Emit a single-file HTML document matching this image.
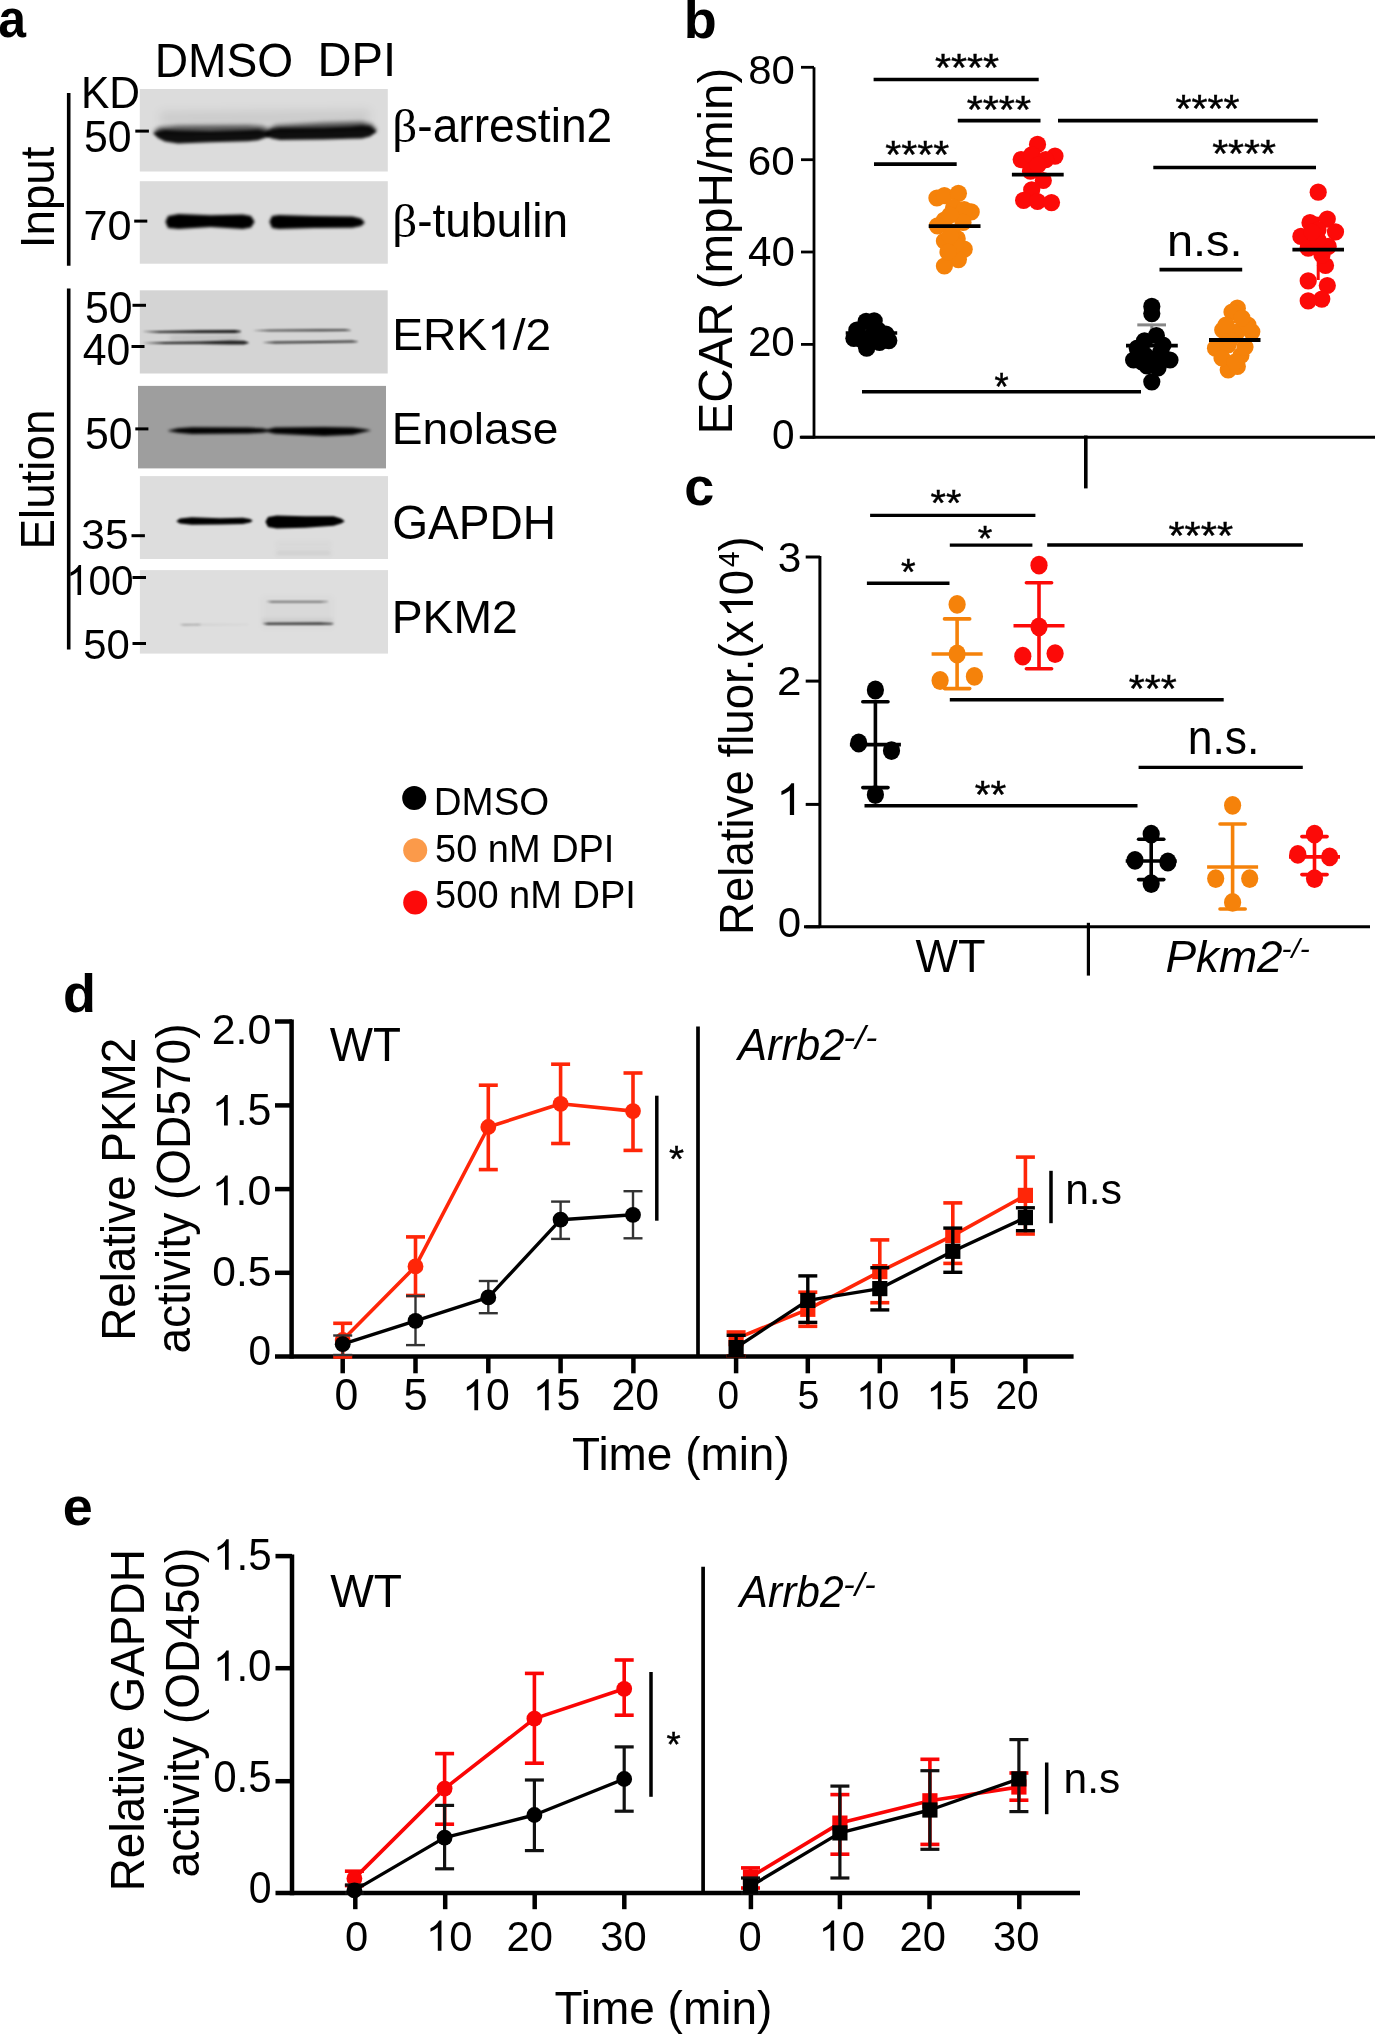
<!DOCTYPE html>
<html><head><meta charset="utf-8"><style>
html,body{margin:0;padding:0;background:#fff;}
svg{display:block;will-change:transform;font-family:"Liberation Sans",sans-serif;}
text{-webkit-font-smoothing:antialiased;}
</style></head><body>
<svg width="1375" height="2034" viewBox="0 0 1375 2034">
<defs>
<filter id="b4" x="-20%" y="-300%" width="140%" height="700%"><feGaussianBlur stdDeviation="4"/></filter>
<filter id="b2_2" x="-20%" y="-300%" width="140%" height="700%"><feGaussianBlur stdDeviation="2.2"/></filter>
<filter id="b1_7" x="-20%" y="-300%" width="140%" height="700%"><feGaussianBlur stdDeviation="1.7"/></filter>
<filter id="b1_5" x="-20%" y="-300%" width="140%" height="700%"><feGaussianBlur stdDeviation="1.5"/></filter>
<filter id="b0_9" x="-20%" y="-300%" width="140%" height="700%"><feGaussianBlur stdDeviation="0.9"/></filter>
<filter id="b2_5" x="-20%" y="-300%" width="140%" height="700%"><feGaussianBlur stdDeviation="2.5"/></filter>
<filter id="b1_4" x="-20%" y="-300%" width="140%" height="700%"><feGaussianBlur stdDeviation="1.4"/></filter>
<filter id="b1_2" x="-20%" y="-300%" width="140%" height="700%"><feGaussianBlur stdDeviation="1.2"/></filter>
<filter id="b2_0" x="-20%" y="-300%" width="140%" height="700%"><feGaussianBlur stdDeviation="2.0"/></filter>
<filter id="b3" x="-20%" y="-300%" width="140%" height="700%"><feGaussianBlur stdDeviation="3"/></filter>
<filter id="b0_8" x="-20%" y="-300%" width="140%" height="700%"><feGaussianBlur stdDeviation="0.8"/></filter>
</defs>
<rect width="1375" height="2034" fill="#fff"/>
<text transform="translate(683.64,38.27)" font-size="54.00" font-weight="bold" fill="#000">b</text>
<line x1="814.00" y1="67.30" x2="814.00" y2="438.60" stroke="#000" stroke-width="2.8" stroke-linecap="butt"/>
<line x1="799.80" y1="437.30" x2="1375.00" y2="437.30" stroke="#000" stroke-width="3.1" stroke-linecap="butt"/>
<line x1="801.00" y1="67.30" x2="814.00" y2="67.30" stroke="#000" stroke-width="2.8" stroke-linecap="butt"/>
<line x1="801.00" y1="159.70" x2="814.00" y2="159.70" stroke="#000" stroke-width="2.8" stroke-linecap="butt"/>
<line x1="801.00" y1="252.00" x2="814.00" y2="252.00" stroke="#000" stroke-width="2.8" stroke-linecap="butt"/>
<line x1="801.00" y1="344.40" x2="814.00" y2="344.40" stroke="#000" stroke-width="2.8" stroke-linecap="butt"/>
<line x1="801.00" y1="437.20" x2="814.00" y2="437.20" stroke="#000" stroke-width="2.8" stroke-linecap="butt"/>
<text transform="translate(748.18,84.00) scale(1,0.973)" font-size="41.95" fill="#000">80</text>
<text transform="translate(747.85,175.41) scale(1,0.953)" font-size="42.25" fill="#000">60</text>
<text transform="translate(748.03,265.88) scale(1,1.024)" font-size="42.08" fill="#000">40</text>
<text transform="translate(747.88,356.29) scale(1,0.987)" font-size="42.23" fill="#000">20</text>
<text transform="translate(772.01,448.79) scale(1,1.027)" font-size="40.58" fill="#000">0</text>
<line x1="1085.80" y1="435.50" x2="1085.80" y2="488.40" stroke="#000" stroke-width="3.6" stroke-linecap="butt"/>
<text transform="translate(732.30,434.40) rotate(-90) scale(1,1.025)" font-size="47.49" fill="#000">ECAR (mpH/min)</text>
<circle cx="874.20" cy="320.80" r="8.6" fill="#000"/>
<circle cx="866.10" cy="321.40" r="8.6" fill="#000"/>
<circle cx="856.80" cy="330.10" r="8.6" fill="#000"/>
<circle cx="853.90" cy="338.30" r="8.6" fill="#000"/>
<circle cx="866.70" cy="348.20" r="8.6" fill="#000"/>
<circle cx="879.50" cy="342.40" r="8.6" fill="#000"/>
<circle cx="885.90" cy="334.20" r="8.6" fill="#000"/>
<circle cx="888.80" cy="340.60" r="8.6" fill="#000"/>
<circle cx="870.70" cy="336.50" r="8.6" fill="#000"/>
<circle cx="862.00" cy="340.00" r="8.6" fill="#000"/>
<circle cx="878.00" cy="330.00" r="8.6" fill="#000"/>
<line x1="845.70" y1="333.00" x2="897.20" y2="333.00" stroke="#000" stroke-width="3.5" stroke-linecap="butt"/>
<circle cx="936.90" cy="198.00" r="8.6" fill="#F5820A"/>
<circle cx="944.40" cy="195.60" r="8.6" fill="#F5820A"/>
<circle cx="958.40" cy="193.30" r="8.6" fill="#F5820A"/>
<circle cx="953.70" cy="207.30" r="8.6" fill="#F5820A"/>
<circle cx="971.20" cy="211.90" r="8.6" fill="#F5820A"/>
<circle cx="964.20" cy="209.60" r="8.6" fill="#F5820A"/>
<circle cx="944.40" cy="220.00" r="8.6" fill="#F5820A"/>
<circle cx="937.50" cy="225.90" r="8.6" fill="#F5820A"/>
<circle cx="963.00" cy="222.40" r="8.6" fill="#F5820A"/>
<circle cx="950.00" cy="215.00" r="8.6" fill="#F5820A"/>
<circle cx="944.40" cy="241.00" r="8.6" fill="#F5820A"/>
<circle cx="957.20" cy="238.70" r="8.6" fill="#F5820A"/>
<circle cx="964.20" cy="249.20" r="8.6" fill="#F5820A"/>
<circle cx="958.40" cy="259.60" r="8.6" fill="#F5820A"/>
<circle cx="944.40" cy="266.00" r="8.6" fill="#F5820A"/>
<circle cx="952.00" cy="232.00" r="8.6" fill="#F5820A"/>
<circle cx="955.00" cy="245.00" r="8.6" fill="#F5820A"/>
<circle cx="950.00" cy="236.00" r="8.6" fill="#F5820A"/>
<circle cx="948.00" cy="252.00" r="8.6" fill="#F5820A"/>
<line x1="928.70" y1="226.10" x2="980.50" y2="226.10" stroke="#000" stroke-width="3.8" stroke-linecap="butt"/>
<circle cx="1037.50" cy="144.40" r="8.6" fill="#FC0A08"/>
<circle cx="1021.20" cy="159.60" r="8.6" fill="#FC0A08"/>
<circle cx="1031.70" cy="154.90" r="8.6" fill="#FC0A08"/>
<circle cx="1055.00" cy="156.10" r="8.6" fill="#FC0A08"/>
<circle cx="1045.70" cy="159.60" r="8.6" fill="#FC0A08"/>
<circle cx="1043.30" cy="180.50" r="8.6" fill="#FC0A08"/>
<circle cx="1031.70" cy="189.80" r="8.6" fill="#FC0A08"/>
<circle cx="1023.60" cy="200.30" r="8.6" fill="#FC0A08"/>
<circle cx="1037.50" cy="201.50" r="8.6" fill="#FC0A08"/>
<circle cx="1051.50" cy="202.60" r="8.6" fill="#FC0A08"/>
<circle cx="1030.50" cy="171.20" r="8.6" fill="#FC0A08"/>
<circle cx="1038.00" cy="165.00" r="8.6" fill="#FC0A08"/>
<line x1="1011.90" y1="174.70" x2="1063.70" y2="174.70" stroke="#000" stroke-width="3.8" stroke-linecap="butt"/>
<line x1="1151.80" y1="324.90" x2="1151.80" y2="345.00" stroke="#888" stroke-width="3" stroke-linecap="butt"/>
<line x1="1137.30" y1="324.90" x2="1166.00" y2="324.90" stroke="#888" stroke-width="3" stroke-linecap="butt"/>
<circle cx="1151.80" cy="306.40" r="8.6" fill="#000"/>
<circle cx="1151.80" cy="313.60" r="8.6" fill="#000"/>
<circle cx="1156.40" cy="335.50" r="8.6" fill="#000"/>
<circle cx="1144.50" cy="340.90" r="8.6" fill="#000"/>
<circle cx="1137.30" cy="348.20" r="8.6" fill="#000"/>
<circle cx="1133.60" cy="360.00" r="8.6" fill="#000"/>
<circle cx="1151.80" cy="359.10" r="8.6" fill="#000"/>
<circle cx="1170.00" cy="360.00" r="8.6" fill="#000"/>
<circle cx="1160.90" cy="351.80" r="8.6" fill="#000"/>
<circle cx="1151.80" cy="381.80" r="8.6" fill="#000"/>
<circle cx="1145.00" cy="355.00" r="8.6" fill="#000"/>
<circle cx="1140.00" cy="352.00" r="8.6" fill="#000"/>
<circle cx="1163.00" cy="345.00" r="8.6" fill="#000"/>
<circle cx="1147.00" cy="366.00" r="8.6" fill="#000"/>
<circle cx="1158.00" cy="368.00" r="8.6" fill="#000"/>
<circle cx="1142.00" cy="362.00" r="8.6" fill="#000"/>
<circle cx="1162.00" cy="358.00" r="8.6" fill="#000"/>
<line x1="1126.00" y1="345.60" x2="1177.80" y2="345.60" stroke="#000" stroke-width="3.8" stroke-linecap="butt"/>
<line x1="1220.00" y1="321.80" x2="1249.00" y2="321.80" stroke="#F5820A" stroke-width="3" stroke-linecap="butt"/>
<circle cx="1237.30" cy="308.20" r="8.6" fill="#F5820A"/>
<circle cx="1232.00" cy="312.00" r="8.6" fill="#F5820A"/>
<circle cx="1222.70" cy="330.00" r="8.6" fill="#F5820A"/>
<circle cx="1251.80" cy="331.80" r="8.6" fill="#F5820A"/>
<circle cx="1237.00" cy="332.00" r="8.6" fill="#F5820A"/>
<circle cx="1215.50" cy="348.20" r="8.6" fill="#F5820A"/>
<circle cx="1240.90" cy="355.50" r="8.6" fill="#F5820A"/>
<circle cx="1228.20" cy="370.00" r="8.6" fill="#F5820A"/>
<circle cx="1237.30" cy="366.40" r="8.6" fill="#F5820A"/>
<circle cx="1228.00" cy="345.00" r="8.6" fill="#F5820A"/>
<circle cx="1230.00" cy="340.00" r="8.6" fill="#F5820A"/>
<circle cx="1245.00" cy="347.00" r="8.6" fill="#F5820A"/>
<circle cx="1222.00" cy="358.00" r="8.6" fill="#F5820A"/>
<circle cx="1235.00" cy="362.00" r="8.6" fill="#F5820A"/>
<circle cx="1248.00" cy="325.00" r="8.6" fill="#F5820A"/>
<circle cx="1226.00" cy="325.00" r="8.6" fill="#F5820A"/>
<circle cx="1242.00" cy="318.00" r="8.6" fill="#F5820A"/>
<line x1="1209.00" y1="340.00" x2="1260.50" y2="340.00" stroke="#000" stroke-width="3.8" stroke-linecap="butt"/>
<line x1="1318.20" y1="218.00" x2="1318.20" y2="280.00" stroke="#FC0A08" stroke-width="3" stroke-linecap="butt"/>
<line x1="1304.50" y1="218.20" x2="1323.60" y2="218.20" stroke="#FC0A08" stroke-width="3" stroke-linecap="butt"/>
<circle cx="1318.20" cy="192.20" r="8.6" fill="#FC0A08"/>
<circle cx="1327.30" cy="219.10" r="8.6" fill="#FC0A08"/>
<circle cx="1310.00" cy="222.70" r="8.6" fill="#FC0A08"/>
<circle cx="1335.50" cy="231.80" r="8.6" fill="#FC0A08"/>
<circle cx="1300.90" cy="236.40" r="8.6" fill="#FC0A08"/>
<circle cx="1318.00" cy="230.00" r="8.6" fill="#FC0A08"/>
<circle cx="1308.20" cy="248.20" r="8.6" fill="#FC0A08"/>
<circle cx="1328.20" cy="246.40" r="8.6" fill="#FC0A08"/>
<circle cx="1325.50" cy="265.50" r="8.6" fill="#FC0A08"/>
<circle cx="1308.20" cy="280.90" r="8.6" fill="#FC0A08"/>
<circle cx="1327.30" cy="285.50" r="8.6" fill="#FC0A08"/>
<circle cx="1321.80" cy="299.10" r="8.6" fill="#FC0A08"/>
<circle cx="1308.20" cy="300.90" r="8.6" fill="#FC0A08"/>
<circle cx="1318.00" cy="240.00" r="8.6" fill="#FC0A08"/>
<circle cx="1322.00" cy="255.00" r="8.6" fill="#FC0A08"/>
<circle cx="1312.00" cy="232.00" r="8.6" fill="#FC0A08"/>
<line x1="1292.40" y1="249.60" x2="1344.00" y2="249.60" stroke="#000" stroke-width="3.8" stroke-linecap="butt"/>
<line x1="873.60" y1="79.50" x2="1038.70" y2="79.50" stroke="#000" stroke-width="3.6" stroke-linecap="butt"/>
<text transform="translate(934.94,80.76) scale(1,0.940)" font-size="41.25" fill="#000" stroke="#000" stroke-width="0.45">****</text>
<line x1="957.80" y1="120.60" x2="1040.50" y2="120.60" stroke="#000" stroke-width="3.6" stroke-linecap="butt"/>
<text transform="translate(966.63,123.35) scale(1,0.943)" font-size="41.38" fill="#000" stroke="#000" stroke-width="0.45">****</text>
<line x1="1058.00" y1="120.60" x2="1317.80" y2="120.60" stroke="#000" stroke-width="3.6" stroke-linecap="butt"/>
<text transform="translate(1175.54,121.64) scale(1,0.940)" font-size="41.18" fill="#000" stroke="#000" stroke-width="0.45">****</text>
<line x1="874.00" y1="164.10" x2="956.70" y2="164.10" stroke="#000" stroke-width="3.6" stroke-linecap="butt"/>
<text transform="translate(885.34,168.00) scale(1,0.940)" font-size="41.05" fill="#000" stroke="#000" stroke-width="0.45">****</text>
<line x1="1153.30" y1="167.50" x2="1316.00" y2="167.50" stroke="#000" stroke-width="3.6" stroke-linecap="butt"/>
<text transform="translate(1212.14,167.10) scale(1,0.940)" font-size="41.05" fill="#000" stroke="#000" stroke-width="0.45">****</text>
<line x1="1159.50" y1="269.60" x2="1242.20" y2="269.60" stroke="#000" stroke-width="3.6" stroke-linecap="butt"/>
<text transform="translate(1166.89,255.96) scale(1,0.957)" font-size="46.90" fill="#000">n.s.</text>
<line x1="862.00" y1="391.80" x2="1141.00" y2="391.80" stroke="#000" stroke-width="3.6" stroke-linecap="butt"/>
<text transform="translate(994.41,399.85) scale(1,1.073)" font-size="36.37" fill="#000" stroke="#000" stroke-width="0.45">*</text>
<text transform="translate(684.14,505.18) scale(1,0.994)" font-size="54.00" font-weight="bold" fill="#000">c</text>
<line x1="819.90" y1="556.00" x2="819.90" y2="928.00" stroke="#000" stroke-width="3" stroke-linecap="butt"/>
<line x1="804.00" y1="926.80" x2="1370.00" y2="926.80" stroke="#000" stroke-width="3" stroke-linecap="butt"/>
<line x1="805.70" y1="557.00" x2="820.00" y2="557.00" stroke="#000" stroke-width="3" stroke-linecap="butt"/>
<line x1="805.70" y1="681.10" x2="820.00" y2="681.10" stroke="#000" stroke-width="3" stroke-linecap="butt"/>
<line x1="805.70" y1="804.40" x2="820.00" y2="804.40" stroke="#000" stroke-width="3" stroke-linecap="butt"/>
<line x1="805.70" y1="926.80" x2="820.00" y2="926.80" stroke="#000" stroke-width="3" stroke-linecap="butt"/>
<text transform="translate(777.69,572.49) scale(1,0.986)" font-size="42.39" fill="#000">3</text>
<text transform="translate(777.08,694.50) scale(1,0.940)" font-size="44.12" fill="#000">2</text>
<g transform="translate(776.12,815.00) scale(1,0.940)" fill="#000">
<text font-size="48.26"> </text>
<path transform="translate(0.00,0) scale(0.02356,-0.02356)" d="M763,0 L583,0 L583,1111 C540,1071 483,1032 413,992 C343,952 280,922 224,902 L224,1071 C325,1116 413,1172 488,1238 C563,1304 617,1368 648,1430 L763,1430 Z"/>
</g>
<text transform="translate(777.66,937.28) scale(1,1.031)" font-size="42.05" fill="#000">0</text>
<line x1="1088.40" y1="922.80" x2="1088.40" y2="975.60" stroke="#000" stroke-width="3.2" stroke-linecap="butt"/>
<text transform="translate(915.40,972.40) scale(1,1.033)" font-size="45.05" fill="#000">WT</text>
<text transform="translate(1165.39,972.40) scale(1,0.962)" font-size="45.88" font-style="italic" fill="#000">Pkm2</text>
<text transform="translate(1281.46,957.72) scale(1,0.940)" font-size="30.11" font-style="italic" fill="#000">-/-</text>
<g transform="translate(752.90,935.04) rotate(-90) scale(1,1.045)" fill="#000">
<text font-size="45.65">Relative fluor.(x 0</text>
<path transform="translate(317.12,0) scale(0.02229,-0.02229)" d="M763,0 L583,0 L583,1111 C540,1071 483,1032 413,992 C343,952 280,922 224,902 L224,1071 C325,1116 413,1172 488,1238 C563,1304 617,1368 648,1430 L763,1430 Z"/>
</g>
<text transform="translate(738.90,567.15) rotate(-90) scale(1,1.045)" font-size="28.30" fill="#000">4</text>
<text transform="translate(752.90,551.41) rotate(-90) scale(1,1.045)" font-size="45.65" fill="#000">)</text>
<line x1="875.40" y1="701.70" x2="875.40" y2="787.60" stroke="#000" stroke-width="3.6" stroke-linecap="butt"/>
<line x1="862.80" y1="701.70" x2="888.00" y2="701.70" stroke="#000" stroke-width="3.6" stroke-linecap="round"/>
<line x1="862.80" y1="787.60" x2="888.00" y2="787.60" stroke="#000" stroke-width="3.6" stroke-linecap="round"/>
<line x1="849.90" y1="744.60" x2="900.90" y2="744.60" stroke="#000" stroke-width="3.6" stroke-linecap="butt"/>
<ellipse cx="875.40" cy="690.00" rx="8.6" ry="9.4" fill="#000"/>
<ellipse cx="858.70" cy="743.00" rx="8.6" ry="9.4" fill="#000"/>
<ellipse cx="891.50" cy="750.70" rx="8.6" ry="9.4" fill="#000"/>
<ellipse cx="875.40" cy="794.70" rx="8.6" ry="9.4" fill="#000"/>
<line x1="957.10" y1="618.90" x2="957.10" y2="688.60" stroke="#F5820A" stroke-width="3.6" stroke-linecap="butt"/>
<line x1="944.50" y1="618.90" x2="969.70" y2="618.90" stroke="#F5820A" stroke-width="3.6" stroke-linecap="round"/>
<line x1="944.50" y1="688.60" x2="969.70" y2="688.60" stroke="#F5820A" stroke-width="3.6" stroke-linecap="round"/>
<line x1="931.60" y1="654.00" x2="982.60" y2="654.00" stroke="#F5820A" stroke-width="3.6" stroke-linecap="butt"/>
<ellipse cx="957.10" cy="604.40" rx="8.6" ry="9.4" fill="#F5820A"/>
<ellipse cx="957.10" cy="654.00" rx="8.6" ry="9.4" fill="#F5820A"/>
<ellipse cx="940.10" cy="680.50" rx="8.6" ry="9.4" fill="#F5820A"/>
<ellipse cx="974.40" cy="676.40" rx="8.6" ry="9.4" fill="#F5820A"/>
<line x1="1039.00" y1="582.80" x2="1039.00" y2="668.80" stroke="#FC0A08" stroke-width="3.6" stroke-linecap="butt"/>
<line x1="1026.40" y1="582.80" x2="1051.60" y2="582.80" stroke="#FC0A08" stroke-width="3.6" stroke-linecap="round"/>
<line x1="1026.40" y1="668.80" x2="1051.60" y2="668.80" stroke="#FC0A08" stroke-width="3.6" stroke-linecap="round"/>
<line x1="1013.50" y1="625.80" x2="1064.50" y2="625.80" stroke="#FC0A08" stroke-width="3.6" stroke-linecap="butt"/>
<ellipse cx="1039.00" cy="565.20" rx="8.6" ry="9.4" fill="#FC0A08"/>
<ellipse cx="1039.00" cy="626.80" rx="8.6" ry="9.4" fill="#FC0A08"/>
<ellipse cx="1022.80" cy="656.20" rx="8.6" ry="9.4" fill="#FC0A08"/>
<ellipse cx="1055.10" cy="653.60" rx="8.6" ry="9.4" fill="#FC0A08"/>
<line x1="1151.20" y1="839.20" x2="1151.20" y2="879.60" stroke="#000" stroke-width="3.6" stroke-linecap="butt"/>
<line x1="1138.60" y1="839.20" x2="1163.80" y2="839.20" stroke="#000" stroke-width="3.6" stroke-linecap="round"/>
<line x1="1138.60" y1="879.60" x2="1163.80" y2="879.60" stroke="#000" stroke-width="3.6" stroke-linecap="round"/>
<line x1="1125.70" y1="861.00" x2="1176.70" y2="861.00" stroke="#000" stroke-width="3.6" stroke-linecap="butt"/>
<ellipse cx="1151.20" cy="834.10" rx="8.6" ry="9.4" fill="#000"/>
<ellipse cx="1135.00" cy="860.40" rx="8.6" ry="9.4" fill="#000"/>
<ellipse cx="1167.90" cy="862.00" rx="8.6" ry="9.4" fill="#000"/>
<ellipse cx="1151.20" cy="883.70" rx="8.6" ry="9.4" fill="#000"/>
<line x1="1232.60" y1="824.00" x2="1232.60" y2="909.00" stroke="#F5820A" stroke-width="3.6" stroke-linecap="butt"/>
<line x1="1220.00" y1="824.00" x2="1245.20" y2="824.00" stroke="#F5820A" stroke-width="3.6" stroke-linecap="round"/>
<line x1="1220.00" y1="909.00" x2="1245.20" y2="909.00" stroke="#F5820A" stroke-width="3.6" stroke-linecap="round"/>
<line x1="1207.10" y1="867.00" x2="1258.10" y2="867.00" stroke="#F5820A" stroke-width="3.6" stroke-linecap="butt"/>
<ellipse cx="1232.60" cy="805.30" rx="8.6" ry="9.4" fill="#F5820A"/>
<ellipse cx="1215.70" cy="878.60" rx="8.6" ry="9.4" fill="#F5820A"/>
<ellipse cx="1249.70" cy="878.60" rx="8.6" ry="9.4" fill="#F5820A"/>
<ellipse cx="1232.60" cy="902.40" rx="8.6" ry="9.4" fill="#F5820A"/>
<line x1="1314.50" y1="836.60" x2="1314.50" y2="874.60" stroke="#FC0A08" stroke-width="3.6" stroke-linecap="butt"/>
<line x1="1301.90" y1="836.60" x2="1327.10" y2="836.60" stroke="#FC0A08" stroke-width="3.6" stroke-linecap="round"/>
<line x1="1301.90" y1="874.60" x2="1327.10" y2="874.60" stroke="#FC0A08" stroke-width="3.6" stroke-linecap="round"/>
<line x1="1289.00" y1="856.90" x2="1340.00" y2="856.90" stroke="#FC0A08" stroke-width="3.6" stroke-linecap="butt"/>
<ellipse cx="1314.50" cy="834.10" rx="8.6" ry="9.4" fill="#FC0A08"/>
<ellipse cx="1297.80" cy="854.30" rx="8.6" ry="9.4" fill="#FC0A08"/>
<ellipse cx="1329.70" cy="856.90" rx="8.6" ry="9.4" fill="#FC0A08"/>
<ellipse cx="1314.50" cy="878.60" rx="8.6" ry="9.4" fill="#FC0A08"/>
<line x1="870.10" y1="515.40" x2="1035.40" y2="515.40" stroke="#000" stroke-width="3.4" stroke-linecap="butt"/>
<text transform="translate(930.56,516.16) scale(1,0.940)" font-size="39.65" fill="#000" stroke="#000" stroke-width="0.45">**</text>
<line x1="949.80" y1="545.10" x2="1032.40" y2="545.10" stroke="#000" stroke-width="3.4" stroke-linecap="butt"/>
<text transform="translate(977.70,549.69) scale(1,0.957)" font-size="37.49" fill="#000" stroke="#000" stroke-width="0.45">*</text>
<line x1="1047.20" y1="545.00" x2="1302.90" y2="545.00" stroke="#000" stroke-width="3.4" stroke-linecap="butt"/>
<text transform="translate(1168.43,548.77) scale(1,0.940)" font-size="41.58" fill="#000" stroke="#000" stroke-width="0.45">****</text>
<line x1="866.90" y1="583.30" x2="949.50" y2="583.30" stroke="#000" stroke-width="3.4" stroke-linecap="butt"/>
<text transform="translate(900.90,585.07) scale(1,0.995)" font-size="37.49" fill="#000" stroke="#000" stroke-width="0.45">*</text>
<line x1="949.80" y1="699.70" x2="1223.70" y2="699.70" stroke="#000" stroke-width="3.4" stroke-linecap="butt"/>
<text transform="translate(1128.74,702.02) scale(1,0.940)" font-size="41.12" fill="#000" stroke="#000" stroke-width="0.45">***</text>
<line x1="1138.60" y1="767.40" x2="1302.80" y2="767.40" stroke="#000" stroke-width="3.4" stroke-linecap="butt"/>
<text transform="translate(1187.65,754.22) scale(1,1.095)" font-size="44.49" fill="#000">n.s.</text>
<line x1="864.50" y1="805.80" x2="1137.50" y2="805.80" stroke="#000" stroke-width="3.4" stroke-linecap="butt"/>
<text transform="translate(974.65,808.11) scale(1,0.940)" font-size="40.45" fill="#000" stroke="#000" stroke-width="0.45">**</text>
<text transform="translate(62.99,1011.98) scale(1,0.994)" font-size="54.00" font-weight="bold" fill="#000">d</text>
<line x1="291.60" y1="1019.50" x2="291.60" y2="1358.60" stroke="#000" stroke-width="4.5" stroke-linecap="butt"/>
<line x1="275.00" y1="1356.60" x2="1073.60" y2="1356.60" stroke="#000" stroke-width="4.5" stroke-linecap="butt"/>
<line x1="275.00" y1="1021.50" x2="292.00" y2="1021.50" stroke="#000" stroke-width="4.5" stroke-linecap="butt"/>
<line x1="275.00" y1="1105.40" x2="292.00" y2="1105.40" stroke="#000" stroke-width="4.5" stroke-linecap="butt"/>
<line x1="275.00" y1="1189.10" x2="292.00" y2="1189.10" stroke="#000" stroke-width="4.5" stroke-linecap="butt"/>
<line x1="275.00" y1="1272.80" x2="292.00" y2="1272.80" stroke="#000" stroke-width="4.5" stroke-linecap="butt"/>
<line x1="698.00" y1="1026.60" x2="698.00" y2="1356.00" stroke="#000" stroke-width="3.7" stroke-linecap="butt"/>
<text transform="translate(211.75,1044.08) scale(1,0.993)" font-size="42.82" fill="#000">2.0</text>
<g transform="translate(211.81,1125.47) scale(1,1.018)" fill="#000">
<text font-size="42.87"> .5</text>
<path transform="translate(0.00,0) scale(0.02093,-0.02093)" d="M763,0 L583,0 L583,1111 C540,1071 483,1032 413,992 C343,952 280,922 224,902 L224,1071 C325,1116 413,1172 488,1238 C563,1304 617,1368 648,1430 L763,1430 Z"/>
</g>
<g transform="translate(211.82,1205.18) scale(1,0.994)" fill="#000">
<text font-size="42.76"> .0</text>
<path transform="translate(0.00,0) scale(0.02088,-0.02088)" d="M763,0 L583,0 L583,1111 C540,1071 483,1032 413,992 C343,952 280,922 224,902 L224,1071 C325,1116 413,1172 488,1238 C563,1304 617,1368 648,1430 L763,1430 Z"/>
</g>
<text transform="translate(212.24,1285.68)" font-size="42.55" fill="#000">0.5</text>
<text transform="translate(248.61,1365.38) scale(1,1.048)" font-size="40.58" fill="#000">0</text>
<line x1="342.70" y1="1356.00" x2="342.70" y2="1373.30" stroke="#000" stroke-width="4.5" stroke-linecap="butt"/>
<line x1="415.50" y1="1356.00" x2="415.50" y2="1373.30" stroke="#000" stroke-width="4.5" stroke-linecap="butt"/>
<line x1="488.30" y1="1356.00" x2="488.30" y2="1373.30" stroke="#000" stroke-width="4.5" stroke-linecap="butt"/>
<line x1="560.60" y1="1356.00" x2="560.60" y2="1373.30" stroke="#000" stroke-width="4.5" stroke-linecap="butt"/>
<line x1="633.40" y1="1356.00" x2="633.40" y2="1373.30" stroke="#000" stroke-width="4.5" stroke-linecap="butt"/>
<line x1="736.10" y1="1356.00" x2="736.10" y2="1373.30" stroke="#000" stroke-width="4.5" stroke-linecap="butt"/>
<line x1="807.80" y1="1356.00" x2="807.80" y2="1373.30" stroke="#000" stroke-width="4.5" stroke-linecap="butt"/>
<line x1="879.80" y1="1356.00" x2="879.80" y2="1373.30" stroke="#000" stroke-width="4.5" stroke-linecap="butt"/>
<line x1="952.80" y1="1356.00" x2="952.80" y2="1373.30" stroke="#000" stroke-width="4.5" stroke-linecap="butt"/>
<line x1="1025.40" y1="1356.00" x2="1025.40" y2="1373.30" stroke="#000" stroke-width="4.5" stroke-linecap="butt"/>
<text transform="translate(334.48,1410.17) scale(1,1.035)" font-size="42.85" fill="#000">0</text>
<text transform="translate(403.45,1410.16) scale(1,1.035)" font-size="43.48" fill="#000">5</text>
<g transform="translate(462.16,1410.17) scale(1,1.035)" fill="#000">
<text font-size="42.85"> 0</text>
<path transform="translate(0.00,0) scale(0.02092,-0.02092)" d="M763,0 L583,0 L583,1111 C540,1071 483,1032 413,992 C343,952 280,922 224,902 L224,1071 C325,1116 413,1172 488,1238 C563,1304 617,1368 648,1430 L763,1430 Z"/>
</g>
<g transform="translate(532.73,1410.17) scale(1,1.035)" fill="#000">
<text font-size="42.85"> 5</text>
<path transform="translate(0.00,0) scale(0.02092,-0.02092)" d="M763,0 L583,0 L583,1111 C540,1071 483,1032 413,992 C343,952 280,922 224,902 L224,1071 C325,1116 413,1172 488,1238 C563,1304 617,1368 648,1430 L763,1430 Z"/>
</g>
<text transform="translate(611.53,1410.17) scale(1,1.035)" font-size="42.85" fill="#000">20</text>
<text transform="translate(717.52,1409.31) scale(1,1.035)" font-size="38.76" fill="#000">0</text>
<text transform="translate(797.60,1409.30) scale(1,1.035)" font-size="39.33" fill="#000">5</text>
<g transform="translate(856.28,1409.31) scale(1,1.035)" fill="#000">
<text font-size="38.76"> 0</text>
<path transform="translate(0.00,0) scale(0.01892,-0.01892)" d="M763,0 L583,0 L583,1111 C540,1071 483,1032 413,992 C343,952 280,922 224,902 L224,1071 C325,1116 413,1172 488,1238 C563,1304 617,1368 648,1430 L763,1430 Z"/>
</g>
<g transform="translate(926.64,1409.31) scale(1,1.035)" fill="#000">
<text font-size="38.76"> 5</text>
<path transform="translate(0.00,0) scale(0.01892,-0.01892)" d="M763,0 L583,0 L583,1111 C540,1071 483,1032 413,992 C343,952 280,922 224,902 L224,1071 C325,1116 413,1172 488,1238 C563,1304 617,1368 648,1430 L763,1430 Z"/>
</g>
<text transform="translate(995.53,1409.31) scale(1,1.035)" font-size="38.76" fill="#000">20</text>
<text transform="translate(572.07,1470.13) scale(1,0.996)" font-size="45.92" fill="#000">Time (min)</text>
<text transform="translate(329.80,1060.50) scale(1,1.053)" font-size="45.83" fill="#000">WT</text>
<text transform="translate(737.95,1060.07) scale(1,1.022)" font-size="43.55" font-style="italic" fill="#000">Arrb2</text>
<text transform="translate(843.14,1048.67) scale(1,0.940)" font-size="36.20" font-style="italic" fill="#000">-/-</text>
<text transform="translate(135.10,1340.86) rotate(-90) scale(1,1.066)" font-size="45.82" fill="#000">Relative PKM2</text>
<text transform="translate(190.00,1353.56) rotate(-90) scale(1,1.061)" font-size="46.05" fill="#000">activity (OD570)</text>
<line x1="342.70" y1="1323.30" x2="342.70" y2="1357.00" stroke="#FF2608" stroke-width="3.6" stroke-linecap="butt"/>
<line x1="333.20" y1="1323.30" x2="352.20" y2="1323.30" stroke="#FF2608" stroke-width="3.6" stroke-linecap="butt"/>
<line x1="333.20" y1="1357.00" x2="352.20" y2="1357.00" stroke="#FF2608" stroke-width="3.6" stroke-linecap="butt"/>
<line x1="415.50" y1="1236.90" x2="415.50" y2="1295.50" stroke="#FF2608" stroke-width="3.6" stroke-linecap="butt"/>
<line x1="406.00" y1="1236.90" x2="425.00" y2="1236.90" stroke="#FF2608" stroke-width="3.6" stroke-linecap="butt"/>
<line x1="406.00" y1="1295.50" x2="425.00" y2="1295.50" stroke="#FF2608" stroke-width="3.6" stroke-linecap="butt"/>
<line x1="488.30" y1="1085.20" x2="488.30" y2="1169.60" stroke="#FF2608" stroke-width="3.6" stroke-linecap="butt"/>
<line x1="478.80" y1="1085.20" x2="497.80" y2="1085.20" stroke="#FF2608" stroke-width="3.6" stroke-linecap="butt"/>
<line x1="478.80" y1="1169.60" x2="497.80" y2="1169.60" stroke="#FF2608" stroke-width="3.6" stroke-linecap="butt"/>
<line x1="560.60" y1="1064.20" x2="560.60" y2="1143.50" stroke="#FF2608" stroke-width="3.6" stroke-linecap="butt"/>
<line x1="551.10" y1="1064.20" x2="570.10" y2="1064.20" stroke="#FF2608" stroke-width="3.6" stroke-linecap="butt"/>
<line x1="551.10" y1="1143.50" x2="570.10" y2="1143.50" stroke="#FF2608" stroke-width="3.6" stroke-linecap="butt"/>
<line x1="633.00" y1="1073.00" x2="633.00" y2="1150.40" stroke="#FF2608" stroke-width="3.6" stroke-linecap="butt"/>
<line x1="623.50" y1="1073.00" x2="642.50" y2="1073.00" stroke="#FF2608" stroke-width="3.6" stroke-linecap="butt"/>
<line x1="623.50" y1="1150.40" x2="642.50" y2="1150.40" stroke="#FF2608" stroke-width="3.6" stroke-linecap="butt"/>
<path d="M342.7,1340.0 L415.5,1266.4 L488.3,1127.0 L560.6,1103.8 L633.0,1111.1" fill="none" stroke="#FF2608" stroke-width="3.6" stroke-linejoin="round"/>
<circle cx="342.70" cy="1340.00" r="7.9" fill="#FF2608"/>
<circle cx="415.50" cy="1266.40" r="7.9" fill="#FF2608"/>
<circle cx="488.30" cy="1127.00" r="7.9" fill="#FF2608"/>
<circle cx="560.60" cy="1103.80" r="7.9" fill="#FF2608"/>
<circle cx="633.00" cy="1111.10" r="7.9" fill="#FF2608"/>
<line x1="342.70" y1="1335.50" x2="342.70" y2="1355.00" stroke="#333" stroke-width="2.4" stroke-linecap="butt"/>
<line x1="333.20" y1="1335.50" x2="352.20" y2="1335.50" stroke="#333" stroke-width="2.4" stroke-linecap="butt"/>
<line x1="333.20" y1="1355.00" x2="352.20" y2="1355.00" stroke="#333" stroke-width="2.4" stroke-linecap="butt"/>
<line x1="415.50" y1="1296.00" x2="415.50" y2="1345.10" stroke="#333" stroke-width="2.4" stroke-linecap="butt"/>
<line x1="406.00" y1="1296.00" x2="425.00" y2="1296.00" stroke="#333" stroke-width="2.4" stroke-linecap="butt"/>
<line x1="406.00" y1="1345.10" x2="425.00" y2="1345.10" stroke="#333" stroke-width="2.4" stroke-linecap="butt"/>
<line x1="488.30" y1="1281.00" x2="488.30" y2="1313.20" stroke="#333" stroke-width="2.4" stroke-linecap="butt"/>
<line x1="478.80" y1="1281.00" x2="497.80" y2="1281.00" stroke="#333" stroke-width="2.4" stroke-linecap="butt"/>
<line x1="478.80" y1="1313.20" x2="497.80" y2="1313.20" stroke="#333" stroke-width="2.4" stroke-linecap="butt"/>
<line x1="560.60" y1="1201.60" x2="560.60" y2="1238.90" stroke="#333" stroke-width="2.4" stroke-linecap="butt"/>
<line x1="551.10" y1="1201.60" x2="570.10" y2="1201.60" stroke="#333" stroke-width="2.4" stroke-linecap="butt"/>
<line x1="551.10" y1="1238.90" x2="570.10" y2="1238.90" stroke="#333" stroke-width="2.4" stroke-linecap="butt"/>
<line x1="633.00" y1="1191.20" x2="633.00" y2="1238.30" stroke="#333" stroke-width="2.4" stroke-linecap="butt"/>
<line x1="623.50" y1="1191.20" x2="642.50" y2="1191.20" stroke="#333" stroke-width="2.4" stroke-linecap="butt"/>
<line x1="623.50" y1="1238.30" x2="642.50" y2="1238.30" stroke="#333" stroke-width="2.4" stroke-linecap="butt"/>
<path d="M342.7,1344.2 L415.5,1320.9 L488.3,1297.4 L560.6,1219.7 L633.0,1214.8" fill="none" stroke="#000" stroke-width="3.4" stroke-linejoin="round"/>
<circle cx="342.70" cy="1344.20" r="7.9" fill="#000"/>
<circle cx="415.50" cy="1320.90" r="7.9" fill="#000"/>
<circle cx="488.30" cy="1297.40" r="7.9" fill="#000"/>
<circle cx="560.60" cy="1219.70" r="7.9" fill="#000"/>
<circle cx="633.00" cy="1214.80" r="7.9" fill="#000"/>
<line x1="656.80" y1="1095.70" x2="656.80" y2="1220.70" stroke="#000" stroke-width="3.5" stroke-linecap="butt"/>
<text transform="translate(668.88,1172.08) scale(1,0.944)" font-size="38.61" fill="#000" stroke="#000" stroke-width="0.45">*</text>
<line x1="736.10" y1="1332.00" x2="736.10" y2="1356.00" stroke="#FF2608" stroke-width="3.6" stroke-linecap="butt"/>
<line x1="726.60" y1="1332.00" x2="745.60" y2="1332.00" stroke="#FF2608" stroke-width="3.6" stroke-linecap="butt"/>
<line x1="726.60" y1="1356.00" x2="745.60" y2="1356.00" stroke="#FF2608" stroke-width="3.6" stroke-linecap="butt"/>
<line x1="807.80" y1="1292.20" x2="807.80" y2="1326.30" stroke="#FF2608" stroke-width="3.6" stroke-linecap="butt"/>
<line x1="798.30" y1="1292.20" x2="817.30" y2="1292.20" stroke="#FF2608" stroke-width="3.6" stroke-linecap="butt"/>
<line x1="798.30" y1="1326.30" x2="817.30" y2="1326.30" stroke="#FF2608" stroke-width="3.6" stroke-linecap="butt"/>
<line x1="879.80" y1="1239.90" x2="879.80" y2="1302.70" stroke="#FF2608" stroke-width="3.6" stroke-linecap="butt"/>
<line x1="870.30" y1="1239.90" x2="889.30" y2="1239.90" stroke="#FF2608" stroke-width="3.6" stroke-linecap="butt"/>
<line x1="870.30" y1="1302.70" x2="889.30" y2="1302.70" stroke="#FF2608" stroke-width="3.6" stroke-linecap="butt"/>
<line x1="952.80" y1="1202.90" x2="952.80" y2="1263.40" stroke="#FF2608" stroke-width="3.6" stroke-linecap="butt"/>
<line x1="943.30" y1="1202.90" x2="962.30" y2="1202.90" stroke="#FF2608" stroke-width="3.6" stroke-linecap="butt"/>
<line x1="943.30" y1="1263.40" x2="962.30" y2="1263.40" stroke="#FF2608" stroke-width="3.6" stroke-linecap="butt"/>
<line x1="1025.40" y1="1157.10" x2="1025.40" y2="1234.00" stroke="#FF2608" stroke-width="3.6" stroke-linecap="butt"/>
<line x1="1015.90" y1="1157.10" x2="1034.90" y2="1157.10" stroke="#FF2608" stroke-width="3.6" stroke-linecap="butt"/>
<line x1="1015.90" y1="1234.00" x2="1034.90" y2="1234.00" stroke="#FF2608" stroke-width="3.6" stroke-linecap="butt"/>
<path d="M736.1,1338.7 L807.8,1309.3 L879.8,1271.6 L952.8,1235.6 L1025.4,1195.4" fill="none" stroke="#FF2608" stroke-width="3.6" stroke-linejoin="round"/>
<rect x="728.50" y="1331.10" width="15.20" height="15.20" fill="#FF2608"/>
<rect x="800.20" y="1301.70" width="15.20" height="15.20" fill="#FF2608"/>
<rect x="872.20" y="1264.00" width="15.20" height="15.20" fill="#FF2608"/>
<rect x="945.20" y="1228.00" width="15.20" height="15.20" fill="#FF2608"/>
<rect x="1017.80" y="1187.80" width="15.20" height="15.20" fill="#FF2608"/>
<line x1="736.10" y1="1335.30" x2="736.10" y2="1356.00" stroke="#000" stroke-width="3.4" stroke-linecap="butt"/>
<line x1="726.60" y1="1335.30" x2="745.60" y2="1335.30" stroke="#000" stroke-width="3.4" stroke-linecap="butt"/>
<line x1="726.60" y1="1356.00" x2="745.60" y2="1356.00" stroke="#000" stroke-width="3.4" stroke-linecap="butt"/>
<line x1="807.80" y1="1275.90" x2="807.80" y2="1322.40" stroke="#000" stroke-width="3.4" stroke-linecap="butt"/>
<line x1="798.30" y1="1275.90" x2="817.30" y2="1275.90" stroke="#000" stroke-width="3.4" stroke-linecap="butt"/>
<line x1="798.30" y1="1322.40" x2="817.30" y2="1322.40" stroke="#000" stroke-width="3.4" stroke-linecap="butt"/>
<line x1="879.80" y1="1267.70" x2="879.80" y2="1309.90" stroke="#000" stroke-width="3.4" stroke-linecap="butt"/>
<line x1="870.30" y1="1267.70" x2="889.30" y2="1267.70" stroke="#000" stroke-width="3.4" stroke-linecap="butt"/>
<line x1="870.30" y1="1309.90" x2="889.30" y2="1309.90" stroke="#000" stroke-width="3.4" stroke-linecap="butt"/>
<line x1="952.80" y1="1228.10" x2="952.80" y2="1272.30" stroke="#000" stroke-width="3.4" stroke-linecap="butt"/>
<line x1="943.30" y1="1228.10" x2="962.30" y2="1228.10" stroke="#000" stroke-width="3.4" stroke-linecap="butt"/>
<line x1="943.30" y1="1272.30" x2="962.30" y2="1272.30" stroke="#000" stroke-width="3.4" stroke-linecap="butt"/>
<line x1="1025.40" y1="1207.80" x2="1025.40" y2="1230.70" stroke="#000" stroke-width="3.4" stroke-linecap="butt"/>
<line x1="1015.90" y1="1207.80" x2="1034.90" y2="1207.80" stroke="#000" stroke-width="3.4" stroke-linecap="butt"/>
<line x1="1015.90" y1="1230.70" x2="1034.90" y2="1230.70" stroke="#000" stroke-width="3.4" stroke-linecap="butt"/>
<path d="M736.1,1347.6 L807.8,1300.4 L879.8,1288.6 L952.8,1251.3 L1025.4,1217.6" fill="none" stroke="#000" stroke-width="3.4" stroke-linejoin="round"/>
<rect x="728.50" y="1340.00" width="15.20" height="15.20" fill="#000"/>
<rect x="800.20" y="1292.80" width="15.20" height="15.20" fill="#000"/>
<rect x="872.20" y="1281.00" width="15.20" height="15.20" fill="#000"/>
<rect x="945.20" y="1243.70" width="15.20" height="15.20" fill="#000"/>
<rect x="1017.80" y="1210.00" width="15.20" height="15.20" fill="#000"/>
<line x1="1051.00" y1="1170.80" x2="1051.00" y2="1223.20" stroke="#000" stroke-width="3.5" stroke-linecap="butt"/>
<text transform="translate(1065.17,1204.09) scale(1,0.982)" font-size="42.55" fill="#000">n.s</text>
<text transform="translate(62.69,1525.27)" font-size="54.00" font-weight="bold" fill="#000">e</text>
<line x1="292.00" y1="1554.40" x2="292.00" y2="1895.20" stroke="#000" stroke-width="4.5" stroke-linecap="butt"/>
<line x1="275.50" y1="1893.00" x2="1080.00" y2="1893.00" stroke="#000" stroke-width="4.5" stroke-linecap="butt"/>
<line x1="275.50" y1="1556.10" x2="292.00" y2="1556.10" stroke="#000" stroke-width="4.5" stroke-linecap="butt"/>
<line x1="275.50" y1="1668.20" x2="292.00" y2="1668.20" stroke="#000" stroke-width="4.5" stroke-linecap="butt"/>
<line x1="275.50" y1="1781.20" x2="292.00" y2="1781.20" stroke="#000" stroke-width="4.5" stroke-linecap="butt"/>
<line x1="703.10" y1="1566.80" x2="703.10" y2="1893.00" stroke="#000" stroke-width="3.7" stroke-linecap="butt"/>
<g transform="translate(212.98,1569.68) scale(1,1.030)" fill="#000">
<text font-size="42.22"> .5</text>
<path transform="translate(0.00,0) scale(0.02061,-0.02061)" d="M763,0 L583,0 L583,1111 C540,1071 483,1032 413,992 C343,952 280,922 224,902 L224,1071 C325,1116 413,1172 488,1238 C563,1304 617,1368 648,1430 L763,1430 Z"/>
</g>
<g transform="translate(212.99,1680.87) scale(1,1.036)" fill="#000">
<text font-size="42.12"> .0</text>
<path transform="translate(0.00,0) scale(0.02057,-0.02057)" d="M763,0 L583,0 L583,1111 C540,1071 483,1032 413,992 C343,952 280,922 224,902 L224,1071 C325,1116 413,1172 488,1238 C563,1304 617,1368 648,1430 L763,1430 Z"/>
</g>
<text transform="translate(213.16,1791.98) scale(1,1.034)" font-size="42.09" fill="#000">0.5</text>
<text transform="translate(248.70,1903.08) scale(1,1.061)" font-size="41.00" fill="#000">0</text>
<line x1="355.30" y1="1893.00" x2="355.30" y2="1909.20" stroke="#000" stroke-width="4.5" stroke-linecap="butt"/>
<line x1="445.20" y1="1893.00" x2="445.20" y2="1909.20" stroke="#000" stroke-width="4.5" stroke-linecap="butt"/>
<line x1="534.70" y1="1893.00" x2="534.70" y2="1909.20" stroke="#000" stroke-width="4.5" stroke-linecap="butt"/>
<line x1="624.30" y1="1893.00" x2="624.30" y2="1909.20" stroke="#000" stroke-width="4.5" stroke-linecap="butt"/>
<line x1="750.90" y1="1893.00" x2="750.90" y2="1909.20" stroke="#000" stroke-width="4.5" stroke-linecap="butt"/>
<line x1="839.90" y1="1893.00" x2="839.90" y2="1909.20" stroke="#000" stroke-width="4.5" stroke-linecap="butt"/>
<line x1="929.50" y1="1893.00" x2="929.50" y2="1909.20" stroke="#000" stroke-width="4.5" stroke-linecap="butt"/>
<line x1="1019.30" y1="1893.00" x2="1019.30" y2="1909.20" stroke="#000" stroke-width="4.5" stroke-linecap="butt"/>
<text transform="translate(345.09,1950.78) scale(1,1.035)" font-size="41.76" fill="#000">0</text>
<g transform="translate(425.91,1950.78) scale(1,1.035)" fill="#000">
<text font-size="41.76"> 0</text>
<path transform="translate(0.00,0) scale(0.02039,-0.02039)" d="M763,0 L583,0 L583,1111 C540,1071 483,1032 413,992 C343,952 280,922 224,902 L224,1071 C325,1116 413,1172 488,1238 C563,1304 617,1368 648,1430 L763,1430 Z"/>
</g>
<text transform="translate(506.44,1950.78) scale(1,1.035)" font-size="41.76" fill="#000">20</text>
<text transform="translate(600.20,1950.78) scale(1,1.035)" font-size="41.76" fill="#000">30</text>
<text transform="translate(738.49,1950.78) scale(1,1.035)" font-size="41.76" fill="#000">0</text>
<g transform="translate(818.61,1950.78) scale(1,1.035)" fill="#000">
<text font-size="41.76"> 0</text>
<path transform="translate(0.00,0) scale(0.02039,-0.02039)" d="M763,0 L583,0 L583,1111 C540,1071 483,1032 413,992 C343,952 280,922 224,902 L224,1071 C325,1116 413,1172 488,1238 C563,1304 617,1368 648,1430 L763,1430 Z"/>
</g>
<text transform="translate(899.54,1950.78) scale(1,1.035)" font-size="41.76" fill="#000">20</text>
<text transform="translate(993.10,1950.78) scale(1,1.035)" font-size="41.76" fill="#000">30</text>
<text transform="translate(554.47,2024.49)" font-size="45.94" fill="#000">Time (min)</text>
<text transform="translate(330.20,1607.20) scale(1,0.981)" font-size="46.22" fill="#000">WT</text>
<text transform="translate(739.60,1606.67) scale(1,1.047)" font-size="42.54" font-style="italic" fill="#000">Arrb2</text>
<text transform="translate(843.23,1595.68) scale(1,0.940)" font-size="34.48" font-style="italic" fill="#000">-/-</text>
<text transform="translate(143.90,1891.37) rotate(-90) scale(1,1.062)" font-size="45.97" fill="#000">Relative GAPDH</text>
<text transform="translate(199.00,1877.45) rotate(-90) scale(1,1.061)" font-size="46.01" fill="#000">activity (OD450)</text>
<line x1="354.40" y1="1871.20" x2="354.40" y2="1885.60" stroke="#FA0505" stroke-width="3.6" stroke-linecap="butt"/>
<line x1="344.90" y1="1871.20" x2="363.90" y2="1871.20" stroke="#FA0505" stroke-width="3.6" stroke-linecap="butt"/>
<line x1="344.90" y1="1885.60" x2="363.90" y2="1885.60" stroke="#FA0505" stroke-width="3.6" stroke-linecap="butt"/>
<line x1="444.60" y1="1753.60" x2="444.60" y2="1824.20" stroke="#FA0505" stroke-width="3.6" stroke-linecap="butt"/>
<line x1="435.10" y1="1753.60" x2="454.10" y2="1753.60" stroke="#FA0505" stroke-width="3.6" stroke-linecap="butt"/>
<line x1="435.10" y1="1824.20" x2="454.10" y2="1824.20" stroke="#FA0505" stroke-width="3.6" stroke-linecap="butt"/>
<line x1="534.40" y1="1673.40" x2="534.40" y2="1763.20" stroke="#FA0505" stroke-width="3.6" stroke-linecap="butt"/>
<line x1="524.90" y1="1673.40" x2="543.90" y2="1673.40" stroke="#FA0505" stroke-width="3.6" stroke-linecap="butt"/>
<line x1="524.90" y1="1763.20" x2="543.90" y2="1763.20" stroke="#FA0505" stroke-width="3.6" stroke-linecap="butt"/>
<line x1="624.20" y1="1660.00" x2="624.20" y2="1715.20" stroke="#FA0505" stroke-width="3.6" stroke-linecap="butt"/>
<line x1="614.70" y1="1660.00" x2="633.70" y2="1660.00" stroke="#FA0505" stroke-width="3.6" stroke-linecap="butt"/>
<line x1="614.70" y1="1715.20" x2="633.70" y2="1715.20" stroke="#FA0505" stroke-width="3.6" stroke-linecap="butt"/>
<path d="M354.4,1878.4 L444.6,1788.6 L534.4,1718.6 L624.2,1688.8" fill="none" stroke="#FA0505" stroke-width="3.6" stroke-linejoin="round"/>
<circle cx="354.40" cy="1878.40" r="7.9" fill="#FA0505"/>
<circle cx="444.60" cy="1788.60" r="7.9" fill="#FA0505"/>
<circle cx="534.40" cy="1718.60" r="7.9" fill="#FA0505"/>
<circle cx="624.20" cy="1688.80" r="7.9" fill="#FA0505"/>
<line x1="354.40" y1="1885.00" x2="354.40" y2="1893.00" stroke="#111" stroke-width="3.2" stroke-linecap="butt"/>
<line x1="344.90" y1="1885.00" x2="363.90" y2="1885.00" stroke="#111" stroke-width="3.2" stroke-linecap="butt"/>
<line x1="344.90" y1="1893.00" x2="363.90" y2="1893.00" stroke="#111" stroke-width="3.2" stroke-linecap="butt"/>
<line x1="444.60" y1="1805.40" x2="444.60" y2="1868.80" stroke="#111" stroke-width="3.2" stroke-linecap="butt"/>
<line x1="435.10" y1="1805.40" x2="454.10" y2="1805.40" stroke="#111" stroke-width="3.2" stroke-linecap="butt"/>
<line x1="435.10" y1="1868.80" x2="454.10" y2="1868.80" stroke="#111" stroke-width="3.2" stroke-linecap="butt"/>
<line x1="534.40" y1="1780.00" x2="534.40" y2="1850.60" stroke="#111" stroke-width="3.2" stroke-linecap="butt"/>
<line x1="524.90" y1="1780.00" x2="543.90" y2="1780.00" stroke="#111" stroke-width="3.2" stroke-linecap="butt"/>
<line x1="524.90" y1="1850.60" x2="543.90" y2="1850.60" stroke="#111" stroke-width="3.2" stroke-linecap="butt"/>
<line x1="624.20" y1="1746.90" x2="624.20" y2="1811.20" stroke="#111" stroke-width="3.2" stroke-linecap="butt"/>
<line x1="614.70" y1="1746.90" x2="633.70" y2="1746.90" stroke="#111" stroke-width="3.2" stroke-linecap="butt"/>
<line x1="614.70" y1="1811.20" x2="633.70" y2="1811.20" stroke="#111" stroke-width="3.2" stroke-linecap="butt"/>
<path d="M354.4,1890.4 L444.6,1837.6 L534.4,1815.0 L624.2,1779.0" fill="none" stroke="#000" stroke-width="3.4" stroke-linejoin="round"/>
<circle cx="354.40" cy="1890.40" r="7.9" fill="#000"/>
<circle cx="444.60" cy="1837.60" r="7.9" fill="#000"/>
<circle cx="534.40" cy="1815.00" r="7.9" fill="#000"/>
<circle cx="624.20" cy="1779.00" r="7.9" fill="#000"/>
<line x1="651.00" y1="1672.00" x2="651.00" y2="1796.80" stroke="#000" stroke-width="3.5" stroke-linecap="butt"/>
<text transform="translate(666.41,1755.50) scale(1,0.979)" font-size="36.37" fill="#000" stroke="#000" stroke-width="0.45">*</text>
<line x1="750.50" y1="1867.90" x2="750.50" y2="1888.00" stroke="#FA0505" stroke-width="3.6" stroke-linecap="butt"/>
<line x1="741.00" y1="1867.90" x2="760.00" y2="1867.90" stroke="#FA0505" stroke-width="3.6" stroke-linecap="butt"/>
<line x1="741.00" y1="1888.00" x2="760.00" y2="1888.00" stroke="#FA0505" stroke-width="3.6" stroke-linecap="butt"/>
<line x1="839.90" y1="1794.60" x2="839.90" y2="1854.20" stroke="#FA0505" stroke-width="3.6" stroke-linecap="butt"/>
<line x1="830.40" y1="1794.60" x2="849.40" y2="1794.60" stroke="#FA0505" stroke-width="3.6" stroke-linecap="butt"/>
<line x1="830.40" y1="1854.20" x2="849.40" y2="1854.20" stroke="#FA0505" stroke-width="3.6" stroke-linecap="butt"/>
<line x1="929.90" y1="1759.30" x2="929.90" y2="1844.40" stroke="#FA0505" stroke-width="3.6" stroke-linecap="butt"/>
<line x1="920.40" y1="1759.30" x2="939.40" y2="1759.30" stroke="#FA0505" stroke-width="3.6" stroke-linecap="butt"/>
<line x1="920.40" y1="1844.40" x2="939.40" y2="1844.40" stroke="#FA0505" stroke-width="3.6" stroke-linecap="butt"/>
<line x1="1018.90" y1="1773.00" x2="1018.90" y2="1800.20" stroke="#FA0505" stroke-width="3.6" stroke-linecap="butt"/>
<line x1="1009.40" y1="1773.00" x2="1028.40" y2="1773.00" stroke="#FA0505" stroke-width="3.6" stroke-linecap="butt"/>
<line x1="1009.40" y1="1800.20" x2="1028.40" y2="1800.20" stroke="#FA0505" stroke-width="3.6" stroke-linecap="butt"/>
<path d="M750.5,1877.1 L839.9,1823.1 L929.9,1800.8 L1018.9,1787.0" fill="none" stroke="#FA0505" stroke-width="3.6" stroke-linejoin="round"/>
<rect x="742.90" y="1869.50" width="15.20" height="15.20" fill="#FA0505"/>
<rect x="832.30" y="1815.50" width="15.20" height="15.20" fill="#FA0505"/>
<rect x="922.30" y="1793.20" width="15.20" height="15.20" fill="#FA0505"/>
<rect x="1011.30" y="1779.40" width="15.20" height="15.20" fill="#FA0505"/>
<line x1="750.50" y1="1878.00" x2="750.50" y2="1893.00" stroke="#111" stroke-width="3.2" stroke-linecap="butt"/>
<line x1="741.00" y1="1878.00" x2="760.00" y2="1878.00" stroke="#111" stroke-width="3.2" stroke-linecap="butt"/>
<line x1="741.00" y1="1893.00" x2="760.00" y2="1893.00" stroke="#111" stroke-width="3.2" stroke-linecap="butt"/>
<line x1="839.90" y1="1786.10" x2="839.90" y2="1878.00" stroke="#111" stroke-width="3.2" stroke-linecap="butt"/>
<line x1="830.40" y1="1786.10" x2="849.40" y2="1786.10" stroke="#111" stroke-width="3.2" stroke-linecap="butt"/>
<line x1="830.40" y1="1878.00" x2="849.40" y2="1878.00" stroke="#111" stroke-width="3.2" stroke-linecap="butt"/>
<line x1="929.90" y1="1770.70" x2="929.90" y2="1849.30" stroke="#111" stroke-width="3.2" stroke-linecap="butt"/>
<line x1="920.40" y1="1770.70" x2="939.40" y2="1770.70" stroke="#111" stroke-width="3.2" stroke-linecap="butt"/>
<line x1="920.40" y1="1849.30" x2="939.40" y2="1849.30" stroke="#111" stroke-width="3.2" stroke-linecap="butt"/>
<line x1="1018.90" y1="1739.60" x2="1018.90" y2="1811.60" stroke="#111" stroke-width="3.2" stroke-linecap="butt"/>
<line x1="1009.40" y1="1739.60" x2="1028.40" y2="1739.60" stroke="#111" stroke-width="3.2" stroke-linecap="butt"/>
<line x1="1009.40" y1="1811.60" x2="1028.40" y2="1811.60" stroke="#111" stroke-width="3.2" stroke-linecap="butt"/>
<path d="M750.5,1886.2 L839.9,1832.9 L929.9,1810.0 L1018.9,1778.9" fill="none" stroke="#000" stroke-width="3.4" stroke-linejoin="round"/>
<rect x="742.90" y="1878.60" width="15.20" height="15.20" fill="#000"/>
<rect x="832.30" y="1825.30" width="15.20" height="15.20" fill="#000"/>
<rect x="922.30" y="1802.40" width="15.20" height="15.20" fill="#000"/>
<rect x="1011.30" y="1771.30" width="15.20" height="15.20" fill="#000"/>
<line x1="1046.70" y1="1762.50" x2="1046.70" y2="1814.20" stroke="#000" stroke-width="3.5" stroke-linecap="butt"/>
<text transform="translate(1063.58,1793.19) scale(1,0.984)" font-size="42.47" fill="#000">n.s</text>
<text transform="translate(-1.86,36.58) scale(1,1.062)" font-size="49.89" font-weight="bold" fill="#000">a</text>
<text transform="translate(154.71,76.64) scale(1,1.022)" font-size="46.17" fill="#000">DMSO</text>
<text transform="translate(317.54,76.40) scale(1,1.009)" font-size="47.10" fill="#000">DPI</text>
<text transform="translate(80.91,107.60) scale(1,1.045)" font-size="42.56" fill="#000">KD</text>
<line x1="68.70" y1="93.00" x2="68.70" y2="265.80" stroke="#000" stroke-width="3.6" stroke-linecap="butt"/>
<line x1="68.70" y1="288.50" x2="68.70" y2="649.50" stroke="#000" stroke-width="3.6" stroke-linecap="butt"/>
<text transform="translate(54.00,248.22) rotate(-90) scale(1,1.059)" font-size="45.70" fill="#000">Input</text>
<text transform="translate(53.50,549.56) rotate(-90) scale(1,1.063)" font-size="45.80" fill="#000">Elution</text>
<rect x="139.80" y="89.00" width="248.00" height="82.50" fill="#dcdcdc"/>
<rect x="139.80" y="181.20" width="248.00" height="82.50" fill="#dbdbdb"/>
<rect x="139.80" y="290.30" width="247.90" height="83.20" fill="#d4d4d4"/>
<rect x="138.00" y="385.90" width="248.00" height="82.50" fill="#9e9e9e"/>
<rect x="139.90" y="476.10" width="248.10" height="82.90" fill="#dddddd"/>
<rect x="139.90" y="570.10" width="248.10" height="83.50" fill="#dedede"/>
<path d="M160.0,111.0 L260.0,110.0 L370.0,109.0 L370.0,124.0 L260.0,126.0 L160.0,125.0 Z" fill="#000" fill-opacity="0.07" filter="url(#b4)"/>
<path d="M153.0,131.0 L160.0,127.0 L178.0,125.5 L248.0,125.0 L262.0,126.0 L268.3,128.5 L276.0,125.0 L324.0,122.5 L362.0,121.5 L372.0,124.0 L377.0,130.0 L377.0,131.0 L372.0,131.5 L362.0,130.0 L324.0,131.0 L276.0,132.0 L268.3,133.0 L262.0,133.0 L248.0,133.0 L178.0,134.0 L160.0,134.0 L153.0,131.0 Z" fill="#000" fill-opacity="0.6" filter="url(#b2_2)"/>
<path d="M153.0,133.0 L158.0,131.0 L165.0,130.0 L178.0,130.5 L210.0,131.0 L248.0,130.0 L258.0,129.5 L266.0,131.0 L270.0,132.0 L270.0,136.0 L266.0,137.5 L258.0,140.3 L248.0,141.3 L210.0,142.2 L178.0,143.5 L165.0,141.5 L158.0,138.0 L153.0,133.0 Z" fill="#000" fill-opacity="0.93" filter="url(#b1_7)"/>
<path d="M266.0,132.0 L272.0,129.0 L280.0,128.0 L324.0,127.5 L350.0,126.5 L362.0,125.5 L370.0,126.5 L376.0,130.5 L376.0,132.0 L370.0,136.5 L362.0,138.5 L350.0,138.8 L324.0,139.5 L280.0,140.0 L272.0,138.5 L266.0,136.0 Z" fill="#000" fill-opacity="0.93" filter="url(#b1_7)"/>
<path d="M165.5,221.5 L168.0,216.0 L178.5,214.0 L210.6,215.2 L242.8,214.5 L251.0,216.0 L254.5,221.5 L254.5,222.0 L251.0,227.5 L242.8,229.0 L210.6,227.0 L178.5,229.0 L168.0,228.0 L165.5,222.0 Z" fill="#000" fill-opacity="1.0" filter="url(#b1_5)"/>
<path d="M269.5,221.5 L272.0,216.0 L278.7,215.0 L314.7,216.0 L352.5,216.6 L361.0,218.5 L364.5,222.0 L364.5,223.0 L361.0,226.0 L352.5,227.8 L314.7,228.0 L278.7,229.0 L272.0,228.0 L269.5,222.0 Z" fill="#000" fill-opacity="1.0" filter="url(#b1_5)"/>
<path d="M142.0,331.8 L160.0,331.0 L200.0,330.2 L235.0,330.0 L241.0,331.0 L241.0,332.0 L235.0,333.0 L200.0,333.0 L160.0,332.8 L142.0,331.8 Z" fill="#000" fill-opacity="0.9" filter="url(#b0_9)"/>
<path d="M252.0,330.5 L270.0,329.8 L320.0,329.3 L345.0,329.2 L351.0,330.0 L351.0,330.5 L345.0,331.0 L320.0,331.2 L270.0,331.2 L252.0,330.5 Z" fill="#000" fill-opacity="0.75" filter="url(#b0_9)"/>
<path d="M142.0,343.0 L165.0,342.0 L200.0,341.5 L230.0,340.5 L244.0,340.8 L249.0,342.5 L249.0,343.0 L244.0,344.5 L230.0,344.5 L200.0,344.0 L165.0,344.0 L142.0,343.0 Z" fill="#000" fill-opacity="0.85" filter="url(#b0_9)"/>
<path d="M170.0,336.0 L240.0,335.0 L240.0,341.0 L170.0,340.0 Z" fill="#000" fill-opacity="0.12" filter="url(#b2_5)"/>
<path d="M262.0,342.5 L275.0,341.4 L320.0,341.0 L352.0,340.6 L358.0,341.5 L358.0,342.0 L352.0,342.6 L320.0,343.0 L275.0,343.4 L262.0,342.5 Z" fill="#000" fill-opacity="0.8" filter="url(#b0_9)"/>
<path d="M168.0,430.5 L178.0,428.3 L192.0,427.2 L248.5,427.6 L262.0,428.3 L267.4,429.2 L275.0,427.6 L324.0,427.0 L352.5,427.5 L364.0,429.0 L371.0,430.2 L371.0,430.6 L364.0,432.0 L352.5,434.8 L324.0,436.0 L275.0,433.8 L267.4,432.0 L262.0,432.8 L248.5,433.4 L192.0,434.0 L178.0,432.8 L168.0,431.0 Z" fill="#000" fill-opacity="1.0" filter="url(#b1_4)"/>
<path d="M176.5,521.0 L180.0,518.5 L191.7,517.3 L220.0,518.2 L242.8,517.7 L250.0,519.0 L252.5,520.5 L252.5,521.0 L250.0,522.5 L242.8,523.9 L220.0,524.5 L191.7,524.8 L180.0,523.5 L176.5,521.5 Z" fill="#000" fill-opacity="1.0" filter="url(#b1_2)"/>
<path d="M265.5,521.5 L268.0,517.0 L276.8,515.4 L305.2,516.3 L333.6,516.3 L341.0,518.5 L344.5,521.0 L344.5,521.5 L341.0,523.5 L333.6,525.8 L305.2,527.7 L276.8,528.6 L268.0,527.0 L265.5,522.0 Z" fill="#000" fill-opacity="1.0" filter="url(#b1_2)"/>
<path d="M276.0,542.5 L331.0,542.5 L331.0,546.5 L276.0,546.5 Z" fill="#000" fill-opacity="0.04" filter="url(#b2_5)"/>
<path d="M276.0,551.0 L331.0,551.0 L331.0,555.0 L276.0,555.0 Z" fill="#000" fill-opacity="0.07" filter="url(#b2_0)"/>
<path d="M262.0,597.0 L333.0,597.0 L333.0,628.0 L262.0,628.0 Z" fill="#000" fill-opacity="0.025" filter="url(#b3)"/>
<path d="M266.0,601.8 L272.0,601.0 L320.0,601.0 L328.0,601.5 L328.0,602.0 L320.0,602.6 L272.0,602.6 L266.0,601.8 Z" fill="#000" fill-opacity="0.6" filter="url(#b0_8)"/>
<path d="M262.0,623.8 L268.0,622.7 L320.0,622.6 L331.0,622.9 L334.0,623.7 L334.0,623.9 L331.0,624.6 L320.0,624.8 L268.0,624.8 L262.0,623.8 Z" fill="#000" fill-opacity="0.85" filter="url(#b0_8)"/>
<path d="M262.0,618.0 L333.0,618.0 L333.0,623.0 L262.0,623.0 Z" fill="#000" fill-opacity="0.05" filter="url(#b1_5)"/>
<path d="M179.0,624.7 L184.0,623.9 L196.0,624.1 L201.0,624.5 L201.0,625.0 L196.0,625.3 L184.0,625.5 L179.0,624.7 Z" fill="#000" fill-opacity="0.3" filter="url(#b0_9)"/>
<path d="M196.0,624.3 L247.0,624.4 L249.0,624.7 L249.0,624.7 L247.0,625.1 L196.0,625.2 Z" fill="#000" fill-opacity="0.12" filter="url(#b0_9)"/>
<text transform="translate(83.89,151.68) scale(1,1.017)" font-size="42.78" fill="#000">50</text>
<line x1="135.30" y1="131.10" x2="148.90" y2="131.10" stroke="#000" stroke-width="3" stroke-linecap="butt"/>
<text transform="translate(83.38,240.28) scale(1,0.996)" font-size="43.25" fill="#000">70</text>
<line x1="134.20" y1="221.10" x2="147.30" y2="221.10" stroke="#000" stroke-width="3" stroke-linecap="butt"/>
<text transform="translate(84.99,323.47) scale(1,1.023)" font-size="42.78" fill="#000">50</text>
<line x1="132.50" y1="305.30" x2="146.00" y2="305.30" stroke="#000" stroke-width="3" stroke-linecap="butt"/>
<text transform="translate(82.82,364.67) scale(1,1.028)" font-size="42.75" fill="#000">40</text>
<line x1="131.50" y1="346.50" x2="144.50" y2="346.50" stroke="#000" stroke-width="3" stroke-linecap="butt"/>
<text transform="translate(84.99,448.67) scale(1,1.037)" font-size="42.78" fill="#000">50</text>
<line x1="135.30" y1="428.90" x2="148.40" y2="428.90" stroke="#000" stroke-width="3" stroke-linecap="butt"/>
<text transform="translate(81.28,549.18) scale(1,1.013)" font-size="42.53" fill="#000">35</text>
<line x1="131.50" y1="535.70" x2="144.90" y2="535.70" stroke="#000" stroke-width="3" stroke-linecap="butt"/>
<g transform="translate(65.97,595.08) scale(1,1.066)" fill="#000">
<text font-size="40.53"> 00</text>
<path transform="translate(0.00,0) scale(0.01979,-0.01979)" d="M763,0 L583,0 L583,1111 C540,1071 483,1032 413,992 C343,952 280,922 224,902 L224,1071 C325,1116 413,1172 488,1238 C563,1304 617,1368 648,1430 L763,1430 Z"/>
</g>
<line x1="132.50" y1="577.50" x2="146.00" y2="577.50" stroke="#000" stroke-width="3" stroke-linecap="butt"/>
<text transform="translate(83.22,658.88) scale(1,1.031)" font-size="41.91" fill="#000">50</text>
<line x1="132.50" y1="643.50" x2="146.00" y2="643.50" stroke="#000" stroke-width="3" stroke-linecap="butt"/>
<text transform="translate(392.30,141.80) scale(1,0.950)" font-size="49.00" font-family="Liberation Serif" fill="#000">β</text>
<text transform="translate(417.25,141.80) scale(1,1.050)" font-size="46.19" fill="#000">-arrestin2</text>
<text transform="translate(392.30,236.60) scale(1,0.950)" font-size="49.00" font-family="Liberation Serif" fill="#000">β</text>
<text transform="translate(417.26,236.60) scale(1,1.050)" font-size="45.99" fill="#000">-tubulin</text>
<g transform="translate(392.21,349.57) scale(1,0.964)" fill="#000">
<text font-size="46.17">ERK /2</text>
<path transform="translate(94.93,0) scale(0.02254,-0.02254)" d="M763,0 L583,0 L583,1111 C540,1071 483,1032 413,992 C343,952 280,922 224,902 L224,1071 C325,1116 413,1172 488,1238 C563,1304 617,1368 648,1430 L763,1430 Z"/>
</g>
<text transform="translate(391.72,444.47) scale(1,0.959)" font-size="46.14" fill="#000">Enolase</text>
<text transform="translate(392.18,539.03) scale(1,1.041)" font-size="46.11" fill="#000">GAPDH</text>
<text transform="translate(391.70,632.70) scale(1,1.011)" font-size="46.32" fill="#000">PKM2</text>
<circle cx="414.20" cy="797.90" r="12" fill="#000"/>
<circle cx="415.20" cy="850.20" r="12" fill="#FB9A4A"/>
<circle cx="415.20" cy="902.40" r="12" fill="#FD0A0A"/>
<text transform="translate(433.84,815.43) scale(1,0.995)" font-size="38.47" fill="#000">DMSO</text>
<text transform="translate(435.08,861.62) scale(1,1.012)" font-size="37.98" fill="#000">50 nM DPI</text>
<text transform="translate(435.08,907.63) scale(1,1.002)" font-size="38.05" fill="#000">500 nM DPI</text>
</svg></body></html>
